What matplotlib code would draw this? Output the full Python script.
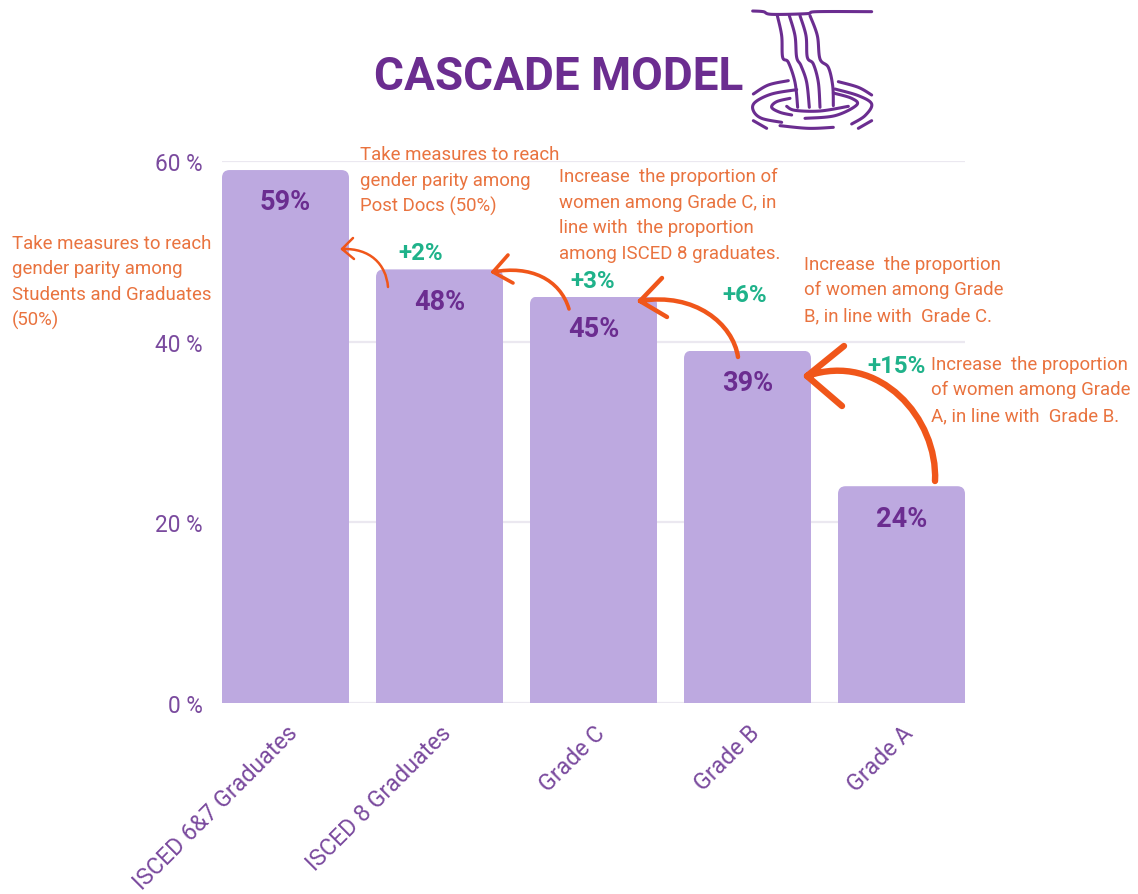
import numpy as np
import matplotlib
matplotlib.use("Agg")
import matplotlib.pyplot as plt
from matplotlib.patches import FancyBboxPatch, PathPatch
from matplotlib.path import Path
from matplotlib.transforms import Affine2D

W, H = 1138, 895
plt.rcParams["font.family"] = ["Roboto", "DejaVu Sans"]

categories = ["ISCED 6&7 Graduates", "ISCED 8 Graduates", "Grade C", "Grade B", "Grade A"]
shares = [59, 48, 45, 39, 24]
y_ticks = [0, 20, 40, 60]
gaps = ["+2%", "+3%", "+6%", "+15%"]

PURPLE = "#6b2d90"
BAR = "#bda9e0"
ORANGE_TXT = "#e9733f"
ORANGE = "#f0561a"
GREEN = "#1fb28a"
TICK = "#7a4a9e"

fig = plt.figure(figsize=(W / 100, H / 100), dpi=100, facecolor="white")
ax = fig.add_axes([222 / W, 1 - 704 / H, 743 / W, 542 / H])
px = Affine2D().scale(1, -1).translate(0, H)  # pixel coordinates, origin top-left

x = np.arange(len(categories))
bar_w = 127 / 154
ax.set_xlim(-0.5 * bar_w, len(categories) - 1 + 0.5 * bar_w)
ax.set_ylim(0, 60)
bars = ax.bar(x, shares, width=bar_w, color=BAR, linewidth=0, zorder=2)

# Round the top corners of each bar by clipping it
x_scale, y_scale = 154.0, 542 / 60
for rect in bars:
    clip = FancyBboxPatch((rect.get_x(), -5), rect.get_width(), rect.get_height() + 5,
                          boxstyle="round,pad=0,rounding_size=0.05",
                          mutation_aspect=x_scale / y_scale,
                          transform=ax.transData, facecolor="none", edgecolor="none")
    ax.add_patch(clip)
    rect.set_clip_path(clip)

ax.set_yticks(y_ticks)
ax.set_yticklabels([f"{v} %" for v in y_ticks], fontsize=16.3, color=TICK, va="center_baseline")
ax.set_xticks(x)
ax.set_xticklabels(categories, rotation=45, ha="right", rotation_mode="anchor",
                   fontsize=16.7, color=TICK)
ax.tick_params(axis="both", length=0)
ax.tick_params(axis="y", pad=14)
ax.tick_params(axis="x", pad=13)
ax.grid(axis="y", color="#ebe8f0", linewidth=1.6, zorder=0)
ax.set_axisbelow(True)
for s in ax.spines.values():
    s.set_visible(False)

for xi, v in zip(x, shares):
    ax.annotate(f"{v}%", (xi, v), xytext=(0, -23), textcoords="offset points",
                ha="center", va="center", fontsize=19.5, fontweight="bold",
                color=PURPLE, zorder=4)

fig.text(374 / W, 1 - 77.5 / H, "CASCADE MODEL", fontsize=33, fontweight="bold",
         color=PURPLE, ha="left", va="center")

# Green gains above the gaps
for label, (gx, gy) in zip(gaps, [(421, 253), (593, 282), (745, 296), (897, 367)]):
    fig.text(gx / W, 1 - gy / H, label, fontsize=17.3, fontweight="bold", color=GREEN,
             ha="center", va="center", zorder=6)

# Recommendation notes
notes = [
    (12, [(244, "Take measures to reach"), (269, "gender parity among"),
          (295, "Students and Graduates"), (320, "(50%)")]),
    (360, [(155, "Take measures to reach"), (181, "gender parity among"),
           (206, "Post Docs (50%)")]),
    (559, [(177, "Increase  the proportion of"), (203, "women among Grade C, in"),
           (228, "line with  the proportion"), (254, "among ISCED 8 graduates.")]),
    (804, [(265, "Increase  the proportion"), (290, "of women among Grade"),
           (316, "B, in line with  Grade C.")]),
    (931, [(365, "Increase  the proportion"), (390, "of women among Grade"),
           (416, "A, in line with  Grade B.")]),
]
for nx, lines in notes:
    for ny, line in lines:
        fig.text(nx / W, 1 - ny / H, line, fontsize=13.4, color=ORANGE_TXT,
                 ha="left", va="center", zorder=6)


def curved_arrow(tail, c1, c2, tip, barb1, barb2, lw):
    """Hand-drawn style arrow: a cubic stroke plus two barbs, in pixel coordinates."""
    verts = [tail, c1, c2, tip, barb1, tip, barb2]
    codes = [Path.MOVETO, Path.CURVE4, Path.CURVE4, Path.CURVE4,
             Path.LINETO, Path.MOVETO, Path.LINETO]
    fig.add_artist(PathPatch(Path(verts, codes), transform=px, facecolor="none",
                             edgecolor=ORANGE, linewidth=lw, capstyle="round",
                             joinstyle="round", zorder=5))


curved_arrow((935, 482), (938, 420), (880, 352), (807, 377), (844, 347), (842, 407), 4.6)
curved_arrow((738, 358), (733, 325), (695, 293), (640, 302), (662, 279), (667, 318), 3.2)
curved_arrow((569, 310), (560, 280), (530, 266), (493, 273), (508, 256), (513, 284), 2.6)
curved_arrow((388, 288), (386, 265), (370, 249), (342, 250), (353, 239), (354, 260), 1.8)


# Waterfall logo: the falls on a 3x grid anchored at (700, 0),
# the ripples on a 3x grid anchored at (745, 70)
def logo_line(pts, origin=(700, 0), lw=2.2):
    pts = np.asarray(pts, float) / 3 + origin
    codes = [Path.MOVETO] + [Path.LINETO] * (len(pts) - 1)
    fig.add_artist(PathPatch(Path(pts, codes), transform=px, facecolor="none",
                             edgecolor=PURPLE, linewidth=lw, capstyle="round",
                             joinstyle="round"))


def smooth(pts, n=12):
    # Catmull-Rom through the given points
    pts = np.asarray(pts, float)
    tt = np.linspace(0, len(pts) - 1, (len(pts) - 1) * n + 1)
    out = []
    p = np.vstack([pts[0], pts, pts[-1]])
    for u in tt:
        i = min(int(u), len(pts) - 2)
        s = u - i
        p0, p1, p2, p3 = p[i], p[i + 1], p[i + 2], p[i + 3]
        out.append(0.5 * ((2 * p1) + (p2 - p0) * s + (2 * p0 - 5 * p1 + 4 * p2 - p3) * s ** 2
                          + (3 * p1 - p0 - 3 * p2 + p3) * s ** 3))
    return np.array(out)


logo_line(smooth([(158, 36), (190, 38), (215, 46), (320, 44), (350, 38), (515, 38)]))
for stream in [
    [(232, 50), (245, 110), (248, 175), (265, 190), (285, 250), (293, 325)],
    [(268, 50), (285, 110), (290, 175), (303, 200), (320, 250), (328, 325)],
    [(300, 50), (318, 110), (322, 175), (340, 195), (355, 250), (360, 325)],
    [(330, 50), (352, 110), (360, 180), (385, 205), (398, 260), (400, 320)],
]:
    logo_line(smooth(stream))

RIPPLE_ORIGIN = (745, 70)
for arc in [
    [(130, 35), (70, 48), (25, 75)],
    [(155, 62), (80, 75), (30, 100), (25, 125), (50, 148), (110, 160)],
    [(135, 88), (95, 98), (80, 115), (105, 130), (140, 138)],
    [(125, 112), (150, 124), (225, 126), (310, 112)],
    [(265, 72), (320, 88), (335, 108), (270, 140), (180, 148)],
    [(105, 170), (190, 178), (265, 175)],
    [(280, 38), (340, 55), (380, 78)],
    [(270, 60), (340, 80), (380, 105), (360, 140), (320, 165)],
    [(25, 155), (65, 178)],
    [(380, 155), (340, 178)],
]:
    logo_line(smooth(arc), origin=RIPPLE_ORIGIN)

fig.savefig("out.png", dpi=100, facecolor="white")
